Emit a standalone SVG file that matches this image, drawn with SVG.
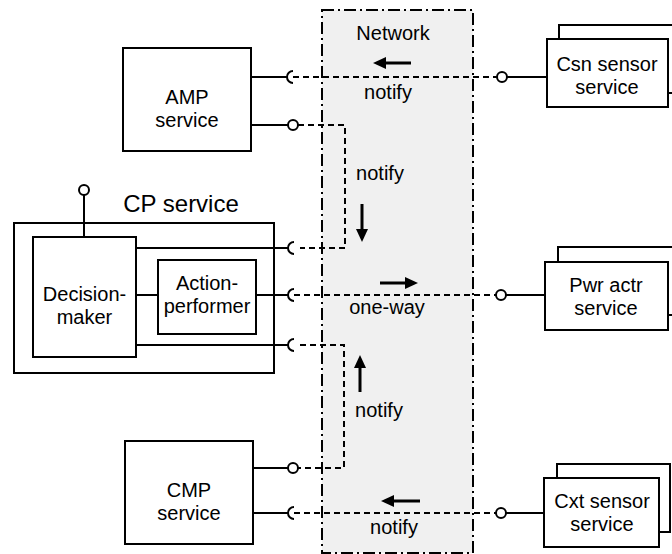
<svg xmlns="http://www.w3.org/2000/svg" width="672" height="554" viewBox="0 0 672 554">
<style>
text{font-family:"Liberation Sans",Arial,sans-serif;font-size:20px;fill:#000;text-anchor:middle}
.box{fill:#fff;stroke:#000;stroke-width:2}
.sol{fill:none;stroke:#000;stroke-width:2}
.dash{fill:none;stroke:#000;stroke-width:2;stroke-dasharray:6 4}
.ball{fill:#fff;stroke:#000;stroke-width:2}
.arr{stroke:#000;stroke-width:3}
.head{fill:#000}
</style>
<g id="network">
<rect x="322" y="10" width="151" height="543" fill="#f0f0f0" stroke="#000" stroke-width="2" stroke-dasharray="12 4 2 4"/>
<text x="393" y="40">Network</text>
</g>
<g id="amp">
<rect class="box" x="123" y="48" width="128" height="103"/>
<text x="187" y="104">AMP</text>
<text x="187" y="127">service</text>
</g>
<g id="cmp">
<rect class="box" x="125" y="441" width="128" height="103"/>
<text x="189" y="497">CMP</text>
<text x="189" y="520">service</text>
</g>
<g id="cp">
<rect class="box" x="14" y="223" width="260" height="150"/>
<text x="181" y="212" style="font-size:24px">CP service</text>
<line class="sol" x1="84" y1="237" x2="84" y2="195"/>
<circle class="ball" cx="84" cy="190" r="5"/>
</g>
<g id="decision-maker">
<rect class="box" x="33" y="237" width="103" height="120"/>
<text x="84.5" y="301">Decision-</text>
<text x="84.5" y="324">maker</text>
</g>
<g id="action-performer">
<rect class="box" x="158" y="260" width="98" height="74"/>
<text x="207" y="290">Action-</text>
<text x="207" y="313">performer</text>
</g>
<g id="csn">
<rect class="box" x="559" y="25" width="125" height="68"/>
<rect class="box" x="547" y="39" width="121" height="68"/>
<text x="607" y="71">Csn sensor</text>
<text x="607" y="94">service</text>
</g>
<g id="pwr">
<rect class="box" x="558" y="247" width="125" height="68"/>
<rect class="box" x="545" y="262" width="123" height="68"/>
<text x="606" y="292">Pwr actr</text>
<text x="606" y="315">service</text>
</g>
<g id="cxt">
<rect class="box" x="557" y="464" width="113" height="68"/>
<rect class="box" x="544" y="478" width="115" height="69"/>
<text x="602" y="508">Cxt sensor</text>
<text x="602" y="531">service</text>
</g>
<g id="connectors">
<!-- AMP notify from Csn -->
<line class="sol" x1="251" y1="77" x2="287" y2="77"/>
<path class="sol" d="M293 71 A6 6 0 0 0 293 83"/>
<line class="dash" x1="293" y1="77" x2="497" y2="77"/>
<circle class="ball" cx="502" cy="77" r="5"/>
<line class="sol" x1="507" y1="77" x2="547" y2="77"/>
<!-- AMP to CP decision-maker -->
<line class="sol" x1="251" y1="125" x2="288" y2="125"/>
<circle class="ball" cx="293" cy="125" r="5"/>
<path class="dash" d="M298 125 H345 V248 H300"/>
<line class="sol" x1="136" y1="248" x2="288" y2="248"/>
<path class="sol" d="M294 242 A6 6 0 0 0 294 254"/>
<!-- Decision to action -->
<line class="sol" x1="136" y1="295" x2="158" y2="295"/>
<!-- Action to Pwr -->
<line class="sol" x1="256" y1="295" x2="288" y2="295"/>
<path class="sol" d="M294 289 A6 6 0 0 0 294 301"/>
<line class="dash" x1="294" y1="295" x2="496" y2="295"/>
<circle class="ball" cx="501" cy="295" r="5"/>
<line class="sol" x1="506" y1="295" x2="545" y2="295"/>
<!-- CMP to decision-maker -->
<line class="sol" x1="136" y1="345" x2="288" y2="345"/>
<path class="sol" d="M294 339 A6 6 0 0 0 294 351"/>
<path class="dash" d="M300 345 H344 V468 H298"/>
<circle class="ball" cx="293" cy="468" r="5"/>
<line class="sol" x1="253" y1="468" x2="288" y2="468"/>
<!-- Cxt to CMP -->
<line class="sol" x1="253" y1="513" x2="288" y2="513"/>
<path class="sol" d="M294 507 A6 6 0 0 0 294 519"/>
<line class="dash" x1="294" y1="513" x2="496" y2="513"/>
<circle class="ball" cx="501" cy="513" r="5"/>
<line class="sol" x1="506" y1="513" x2="544" y2="513"/>
<!-- arrows and labels -->
<line class="arr" x1="384" y1="63" x2="411" y2="63"/>
<polygon class="head" points="373,63 386,57 386,69"/>
<text x="388" y="99">notify</text>
<line class="arr" x1="362" y1="204" x2="362" y2="230"/>
<polygon class="head" points="362,242 356,229 368,229"/>
<text x="380" y="180">notify</text>
<line class="arr" x1="380" y1="283" x2="406" y2="283"/>
<polygon class="head" points="418,283 405,277 405,289"/>
<text x="387" y="314">one-way</text>
<line class="arr" x1="360" y1="392" x2="360" y2="367"/>
<polygon class="head" points="360,355 354,368 366,368"/>
<text x="379" y="417">notify</text>
<line class="arr" x1="393" y1="501" x2="420" y2="501"/>
<polygon class="head" points="381,501 394,495 394,507"/>
<text x="394" y="534">notify</text>
</g>
</svg>
